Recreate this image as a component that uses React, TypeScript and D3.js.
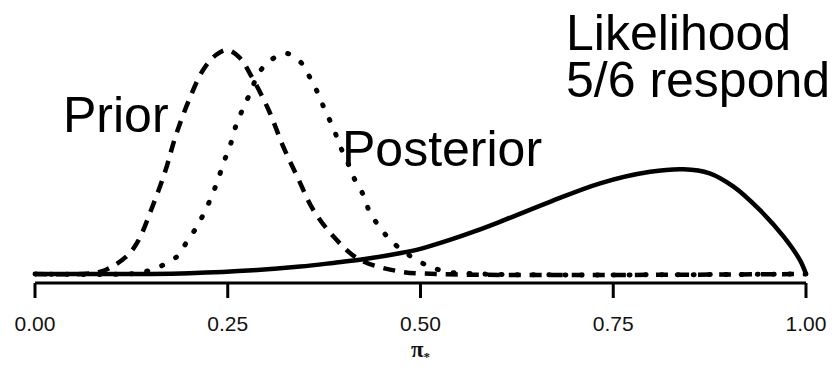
import React from "react";
import * as d3 from "d3";

const priorX = [0, 0.06, 0.085, 0.1, 0.12, 0.134, 0.151, 0.169, 0.182, 0.199, 0.218, 0.235, 0.249, 0.265, 0.281, 0.303, 0.322, 0.341, 0.361, 0.389, 0.42, 0.47, 0.52, 1];
const priorY = [0, 0, 0.06, 0.2, 0.5, 0.9, 1.75, 2.78, 3.7, 4.66, 5.51, 5.92, 6.05, 5.85, 5.33, 4.43, 3.44, 2.59, 1.73, 0.97, 0.4, 0.08, 0, 0];

const postX = [0, 0.12, 0.14, 0.162, 0.184, 0.197, 0.21, 0.22, 0.23, 0.238, 0.246, 0.254, 0.261, 0.27, 0.28, 0.29, 0.306, 0.326, 0.346, 0.357, 0.367, 0.376, 0.387, 0.396, 0.406, 0.415, 0.426, 0.434, 0.447, 0.463, 0.499, 0.53, 0.58, 1];
const postY = [0, 0, 0.05, 0.2, 0.47, 0.87, 1.28, 1.68, 2.14, 2.59, 3.08, 3.53, 4.03, 4.48, 4.93, 5.42, 5.78, 5.96, 5.69, 5.29, 4.88, 4.43, 3.94, 3.44, 2.99, 2.54, 2.13, 1.68, 1.27, 0.87, 0.33, 0.08, 0, 0];

const likX = [0, 0.15, 0.2, 0.283, 0.344, 0.387, 0.43, 0.473, 0.5, 0.538, 0.57, 0.603, 0.668, 0.733, 0.798, 0.841, 0.875, 0.906, 0.94, 0.971, 0.992, 1];
const likY = [0, 0, 0.02, 0.1, 0.2, 0.3, 0.41, 0.56, 0.68, 0.92, 1.15, 1.41, 1.95, 2.45, 2.76, 2.83, 2.72, 2.36, 1.73, 1.01, 0.38, 0];

const tickValues = [0, 0.25, 0.5, 0.75, 1];
const tickLabels = ["0.00", "0.25", "0.50", "0.75", "1.00"];

const W = 838;
const H = 368;

export default function App() {
  const x = d3.scaleLinear().domain([0, 1]).range([35, 806]);
  const y = d3.scaleLinear().domain([0, 6.05]).range([274, 50]);
  const line = d3
    .line<[number, number]>()
    .x((d) => x(d[0]))
    .y((d) => Math.min(y(d[1]), y(0)))
    .curve(d3.curveCatmullRom.alpha(0.5));
  const zip = (a: number[], b: number[]) => a.map((v, i) => [v, b[i]] as [number, number]);

  const axisY = 283;
  const font = "'Liberation Sans', Arial, sans-serif";

  return (
    <svg
      width={W}
      height={H}
      style={{ position: "absolute", left: 0, top: 0, background: "#fff" }}
    >
      <rect width={W} height={H} fill="#fff" />
      {/* curves */}
      <path d={line(zip(likX, likY)) || ""} fill="none" stroke="#000" strokeWidth={4.5} />
      <path
        d={line(zip(priorX, priorY)) || ""}
        fill="none"
        stroke="#000"
        strokeWidth={4.5}
        strokeDasharray="12 9"
      />
      <path
        d={line(zip(postX, postY)) || ""}
        fill="none"
        stroke="#000"
        strokeWidth={5}
        strokeLinecap="round"
        strokeDasharray="1 15"
      />
      {/* axis */}
      <line x1={x(0)} x2={x(1)} y1={axisY} y2={axisY} stroke="#000" strokeWidth={3} />
      {tickValues.map((t, i) => (
        <g key={i}>
          <line x1={x(t)} x2={x(t)} y1={axisY} y2={298} stroke="#000" strokeWidth={3} />
          <text
            x={x(t)}
            y={331}
            textAnchor="middle"
            fontFamily={font}
            fontSize={21}
            fill="#111"
          >
            {tickLabels[i]}
          </text>
        </g>
      ))}
      <text x={x(0.5)} y={357} textAnchor="middle" fontFamily="'Liberation Serif', serif" fontSize={23} fontWeight="bold" fill="#111">
        π<tspan fontSize={13} dy={4}>*</tspan>
      </text>
      {/* labels */}
      <text x={63} y={132} fontFamily={font} fontSize={50} fill="#000">Prior</text>
      <text x={342} y={166} fontFamily={font} fontSize={50} fill="#000">Posterior</text>
      <text x={566} y={50} fontFamily={font} fontSize={50} fill="#000">Likelihood</text>
      <text x={566} y={97} fontFamily={font} fontSize={50} fill="#000">5/6 respond</text>
    </svg>
  );
}
